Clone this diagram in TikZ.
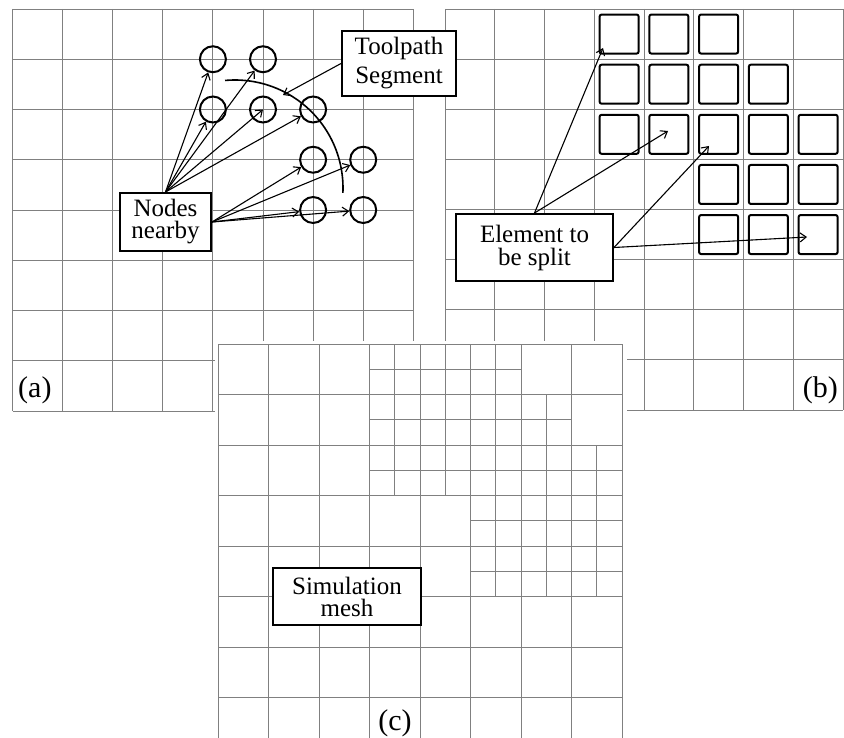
\documentclass[tikz,border=0pt]{standalone}
\usepackage{fontspec}
\setmainfont{Liberation Serif}
\usetikzlibrary{arrows.meta,calc}
\begin{document}
\begin{tikzpicture}[x=1pt,y=-1pt,
  gridline/.style={black!50, line width=0.9pt},
  lbl/.style={draw=black, line width=2pt, fill=white, inner sep=0pt, align=center, font=\fontsize{25}{22}\selectfont},
  dot/.style={circle, draw=black, line width=2pt, minimum size=26pt, inner sep=0pt},
  cellbox/.style={draw=black, line width=2pt, rounded corners=2pt, minimum size=39pt, inner sep=0pt},
  arr/.style={line width=1.1pt, -{Straight Barb[length=6pt,width=9pt]}},
  panellabel/.style={font=\fontsize{30}{30}\selectfont, inner sep=0pt}
]
\useasboundingbox (0,0) rectangle (844,738);
\clip (0,0) rectangle (844,738);
\fill[white] (0,0) rectangle (844,738);

% panel (a) grid
\foreach \i in {0,...,8} {
  \draw[gridline] ({12.5+50.1*\i},9) -- ({12.5+50.1*\i},411);
  \draw[gridline] (12.5,{9+50.25*\i}) -- (413.3,{9+50.25*\i});
}
% panel (b) grid
\foreach \i in {0,...,8} {
  \draw[gridline] ({445+49.75*\i},9) -- ({445+49.75*\i},410);
  \draw[gridline] (445,{9+50.125*\i}) -- (843,{9+50.125*\i});
}

% toolpath segment arc
\draw[line width=1.6pt] plot[domain=95.3:-2.6, samples=60, smooth] ({235+108*cos(\x)},{188-108*sin(\x)});

% nodes (circles) in panel (a)
\foreach \i/\j in {4/1,5/1,4/2,5/2,6/2,6/3,7/3,6/4,7/4}
  \node[dot] (c\i\j) at ({12.5+50.1*\i},{9+50.25*\j}) {};

% elements in panel (b)
\foreach \c/\r in {3/0,4/0,5/0,3/1,4/1,5/1,6/1,3/2,4/2,5/2,6/2,7/2,5/3,6/3,7/3,5/4,6/4,7/4}
  \node[cellbox] (s\c\r) at ({445+49.75*(\c+0.5)},{9+50.125*(\r+0.5)}) {};

% text boxes
\node[lbl, minimum width=91pt, minimum height=58pt] (nn) at (165.5,222) {Nodes\\nearby};
\node[lbl, minimum width=114pt, minimum height=65pt, font=\fontsize{25}{29}\selectfont] (tp) at (399,63.5) {Toolpath\\Segment};
\node[lbl, minimum width=157pt, minimum height=67pt, font=\fontsize{25}{23}\selectfont] (el) at (534.5,247.5) {Element to\\be split};

% arrows panel (a)
\foreach \t in {c41,c51,c42,c62} \draw[arr] (nn.north) -- (\t);
\draw[arr] (nn.north) -- (c52.center);
\foreach \t in {c63,c73,c64,c74} \draw[arr] (nn.east) -- (\t);
\coordinate (tpend) at (283,95);
\draw[arr] (tp.west) -- (tpend);

% arrows panel (b)
\coordinate (t1) at (603,48);
\coordinate (t2) at (668,131);
\coordinate (t3) at (709,146);
\coordinate (t4) at (807,237);
\draw[arr] (el.north) -- (t1);
\draw[arr] (el.north) -- (t2);
\draw[arr] (el.east) -- (t3);
\draw[arr] (el.east) -- (t4);

% panel (c)
\fill[white] (214.5,340.5) rectangle (627,740);
\foreach \i in {0,...,8}
  \draw[gridline] ({218+50.5*\i},344) -- ({218+50.5*\i},742);
\foreach \j in {0,...,7}
  \draw[gridline] (218,{344+50.5*\j}) -- (622,{344+50.5*\j});
\foreach \xx/\ya/\yb in {3.5/0/3, 4.5/0/3, 5.5/0/5, 6.5/1/5, 7.5/2/5}
  \draw[gridline] ({218+50.5*\xx},{344+50.5*\ya}) -- ({218+50.5*\xx},{344+50.5*\yb});
\foreach \yy/\xa/\xb in {0.5/3/6, 1.5/3/7, 2.5/3/8, 3.5/5/8, 4.5/5/8}
  \draw[gridline] ({218+50.5*\xa},{344+50.5*\yy}) -- ({218+50.5*\xb},{344+50.5*\yy});

\node[lbl, minimum width=148pt, minimum height=57pt] (sm) at (347,596.5) {Simulation\\mesh};

% panel labels
\node[panellabel, anchor=base west] (la) at (18,397) {(a)};
\node[panellabel, anchor=base east] (lb) at (838,397) {(b)};
\node[panellabel, anchor=base] (lc) at (395,730) {(c)};
\end{tikzpicture}
\end{document}
